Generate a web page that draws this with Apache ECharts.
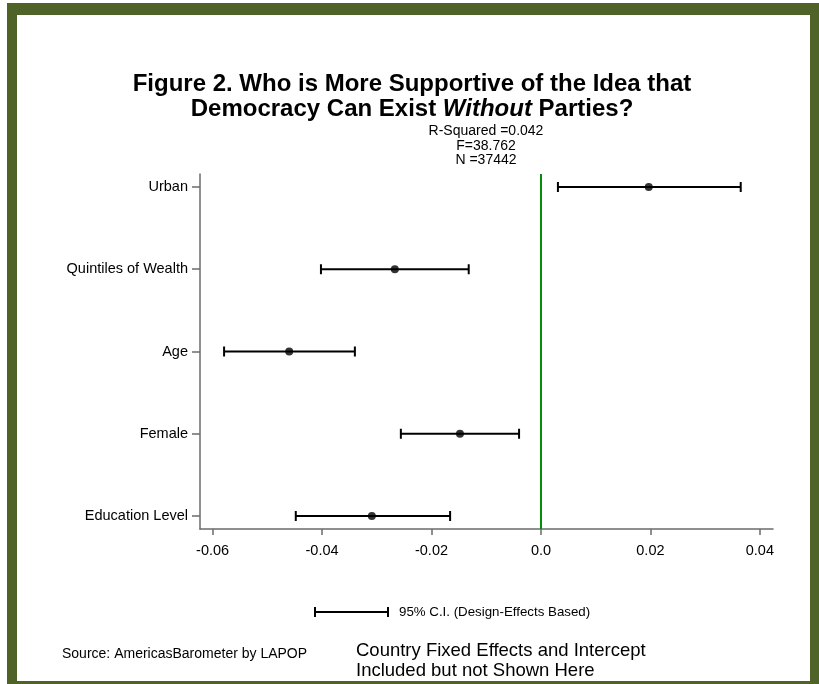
<!DOCTYPE html>
<html>
<head>
<meta charset="utf-8">
<script src="https://cdn.jsdelivr.net/npm/echarts@6/dist/echarts.min.js"></script>
<style>
  html, body { margin: 0; padding: 0; background: #ffffff; }
  #chart { width: 819px; height: 684px; }
</style>
</head>
<body>
<div id="chart"></div>
<script>
// Coefficients with 95% confidence intervals (design-effects based)
const categories = ['Education Level', 'Female', 'Age', 'Quintiles of Wealth', 'Urban'];
const estimates  = [-0.0309, -0.0148, -0.0460, -0.0267, 0.0197];
const lowerCI    = [-0.0448, -0.0256, -0.0579, -0.0402, 0.0031];
const upperCI    = [-0.0166, -0.0040, -0.0340, -0.0132, 0.0365];
const xTicks     = [-0.06, -0.04, -0.02, 0, 0.02, 0.04];
const xTickLabels = ['-0.06', '-0.04', '-0.02', '0.0', '0.02', '0.04'];
const statsLines = ['R-Squared =0.042', 'F=38.762', 'N =37442'];

const FONT = '"Liberation Sans", Arial, sans-serif';
const AXIS_COLOR = '#6b6b6b';
const FRAME_COLOR = '#4f6228';

const rowPos = categories.map((_, i) => i + 1);
const ciData = categories.map((_, i) => [lowerCI[i], upperCI[i], rowPos[i]]);
const pointData = categories.map((_, i) => [estimates[i], rowPos[i]]);

const chart = echarts.init(document.getElementById('chart'), null, { renderer: 'canvas' });

const option = {
  animation: false,
  backgroundColor: '#ffffff',
  title: {
    text: '{b|Figure 2. Who is More Supportive of the Idea that}\n{b|Democracy Can Exist }{bi|Without}{b| Parties?}',
    left: 412,
    textAlign: 'center',
    top: 72,
    padding: 0,
    textStyle: {
      rich: {
        b:  { fontFamily: FONT, fontWeight: 'bold', fontSize: 24, color: '#000', lineHeight: 25 },
        bi: { fontFamily: FONT, fontWeight: 'bold', fontStyle: 'italic', fontSize: 24, color: '#000', lineHeight: 25 }
      }
    }
  },
  grid: { left: 200, right: 46, top: 174, bottom: 155, containLabel: false },
  xAxis: {
    type: 'value',
    min: -0.0623,
    max: 0.0424,
    splitLine: { show: false },
    axisLine: { show: true, onZero: false, lineStyle: { color: AXIS_COLOR, width: 1.5 } },
    axisTick: { show: true, customValues: xTicks, length: 6, lineStyle: { color: AXIS_COLOR, width: 1.5 } },
    axisLabel: {
      customValues: xTicks,
      formatter: v => xTickLabels[xTicks.findIndex(t => Math.abs(t - v) < 1e-9)],
      fontFamily: FONT, fontSize: 14.5, color: '#000', margin: 14
    }
  },
  yAxis: {
    type: 'value',
    min: 0.842,
    max: 5.158,
    splitLine: { show: false },
    axisLine: { show: true, onZero: false, lineStyle: { color: AXIS_COLOR, width: 1.5 } },
    axisTick: { show: true, customValues: rowPos, length: 8, lineStyle: { color: AXIS_COLOR, width: 1.5 } },
    axisLabel: {
      customValues: rowPos,
      formatter: v => categories[Math.round(v) - 1],
      fontFamily: FONT, fontSize: 14.5, color: '#000', margin: 12
    }
  },
  series: [
    {
      type: 'custom',
      name: 'CI',
      data: ciData,
      renderItem: function (params, api) {
        const lo = api.coord([api.value(0), api.value(2)]);
        const hi = api.coord([api.value(1), api.value(2)]);
        const cap = 5;
        const style = { stroke: '#000', lineWidth: 2 };
        return {
          type: 'group',
          children: [
            { type: 'line', shape: { x1: lo[0], y1: lo[1], x2: hi[0], y2: hi[1] }, style },
            { type: 'line', shape: { x1: lo[0], y1: lo[1] - cap, x2: lo[0], y2: lo[1] + cap }, style },
            { type: 'line', shape: { x1: hi[0], y1: hi[1] - cap, x2: hi[0], y2: hi[1] + cap }, style }
          ]
        };
      },
      markLine: {
        silent: true,
        symbol: 'none',
        label: { show: false },
        lineStyle: { color: '#0a8a0a', width: 2, type: 'solid' },
        data: [{ xAxis: 0 }]
      },
      z: 3
    },
    {
      type: 'scatter',
      name: 'Estimate',
      data: pointData,
      symbol: 'circle',
      symbolSize: 8,
      itemStyle: { color: '#000' },
      z: 4
    }
  ],
  graphic: [
    // frame around the figure
    { type: 'rect', silent: true, z: -10, shape: { x: 7, y: 3, width: 812, height: 681 }, style: { fill: FRAME_COLOR } },
    { type: 'rect', silent: true, z: -9, shape: { x: 17, y: 15, width: 793, height: 666 }, style: { fill: '#ffffff' } },
    // model fit statistics
    {
      type: 'text',
      style: {
        text: statsLines.join('\n'), x: 486, y: 124, align: 'center', verticalAlign: 'top',
        fontFamily: FONT, fontSize: 14, lineHeight: 14.5, fill: '#000'
      }
    },
    // confidence interval key
    { type: 'line', shape: { x1: 315, y1: 612, x2: 388, y2: 612 }, style: { stroke: '#000', lineWidth: 2 } },
    { type: 'line', shape: { x1: 315, y1: 607, x2: 315, y2: 617 }, style: { stroke: '#000', lineWidth: 2 } },
    { type: 'line', shape: { x1: 388, y1: 607, x2: 388, y2: 617 }, style: { stroke: '#000', lineWidth: 2 } },
    {
      type: 'text',
      style: { text: '95% C.I. (Design-Effects Based)', x: 399, y: 612, verticalAlign: 'middle', fontFamily: FONT, fontSize: 13.3, fill: '#000' }
    },
    {
      type: 'text',
      style: { text: 'Source: AmericasBarometer by LAPOP', x: 62, y: 654, verticalAlign: 'middle', fontFamily: FONT, fontSize: 14, fill: '#000' }
    },
    {
      type: 'text',
      style: {
        text: 'Country Fixed Effects and Intercept\nIncluded but not Shown Here',
        x: 356, y: 641, verticalAlign: 'top',
        fontFamily: FONT, fontSize: 18.5, lineHeight: 20, fill: '#000'
      }
    }
  ]
};

chart.setOption(option);
</script>
</body>
</html>
